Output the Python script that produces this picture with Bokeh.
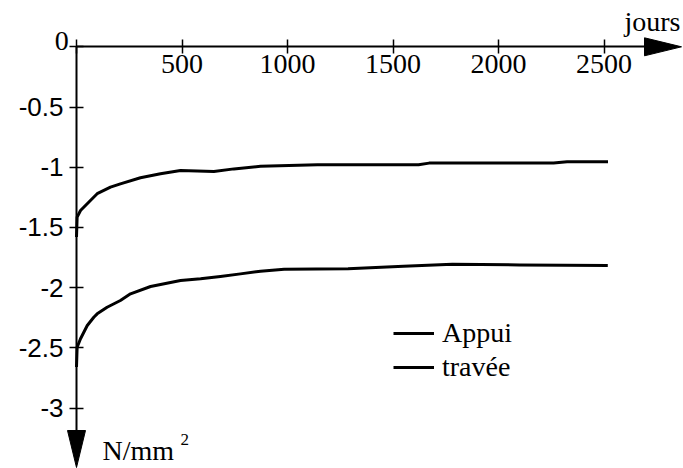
from bokeh.plotting import figure
from bokeh.models import Range1d, LinearAxis, FixedTicker, Legend, LegendItem
from bokeh.core.properties import value
from bokeh.embed import file_html
from bokeh.resources import INLINE

# Stress over time (N/mm2) at the support (appui) and in the span (travée)
days_appui = [0, 3, 19, 51, 82, 98, 145, 208, 256, 351, 493, 588, 682, 777,
              872, 984, 1287, 1550, 1781, 2100, 2518]
sigma_appui = [-2.66, -2.495, -2.425, -2.315, -2.246, -2.218, -2.163, -2.107,
               -2.052, -1.991, -1.941, -1.927, -1.908, -1.886, -1.864, -1.848,
               -1.843, -1.822, -1.806, -1.812, -1.817]

days_travee = [0, 3, 19, 66, 98, 161, 208, 303, 398, 493, 651, 746, 872,
               1142, 1621, 1671, 2261, 2325, 2519]
sigma_travee = [-1.58, -1.415, -1.36, -1.277, -1.22, -1.166, -1.138, -1.088,
                -1.055, -1.027, -1.036, -1.014, -0.992, -0.98, -0.98, -0.966,
                -0.966, -0.955, -0.955]

x_ticks = [0, 500, 1000, 1500, 2000, 2500]
y_ticks = [0, -0.5, -1, -1.5, -2, -2.5, -3]
y_tick_labels = {0: "", -0.5: "-0.5", -1: "-1", -1.5: "-1.5", -2: "-2",
                 -2.5: "-2.5", -3: "-3"}

W, H = 683, 468
X0_PX, PX_PER_DAY = 76.0, 0.211      # where day 0 sits, horizontal scale
Y0_PX, PX_PER_UNIT = 46.3, 120.4     # where 0 N/mm2 sits, vertical scale

x_start = -X0_PX / PX_PER_DAY
x_end = (W - X0_PX) / PX_PER_DAY
y_end = Y0_PX / PX_PER_UNIT
y_start = -(H - Y0_PX) / PX_PER_UNIT

X_TIP = (681 - X0_PX) / PX_PER_DAY     # end of the time axis arrow
Y_TIP = -(467 - Y0_PX) / PX_PER_UNIT   # end of the stress axis arrow
HEAD_LEN, HEAD_HALF = 37, 9            # arrow head size in pixels

SERIF = "Liberation Serif"
SANS = "Liberation Sans"

p = figure(width=W, height=H, x_range=Range1d(x_start, x_end),
           y_range=Range1d(y_start, y_end), output_backend="svg",
           toolbar_location=None, x_axis_type=None, y_axis_type=None,
           min_border=0)
p.outline_line_color = None
p.background_fill_color = "white"

# axes crossing at the origin
xaxis = LinearAxis(fixed_location=0, ticker=FixedTicker(ticks=x_ticks),
                   bounds=(0, X_TIP - HEAD_LEN / PX_PER_DAY))
xaxis.major_label_overrides = {0: ""}
xaxis.major_label_text_font = SERIF
xaxis.major_label_text_font_size = "28px"
xaxis.major_label_text_color = "black"
xaxis.major_label_standoff = 1
xaxis.axis_line_width = 2
xaxis.axis_line_color = "black"
xaxis.major_tick_in = 7
xaxis.major_tick_out = 7
xaxis.major_tick_line_width = 1.5
xaxis.major_tick_line_color = "black"
xaxis.minor_tick_line_color = None
p.add_layout(xaxis, "below")

yaxis = LinearAxis(fixed_location=0, ticker=FixedTicker(ticks=y_ticks),
                   bounds=(Y_TIP + HEAD_LEN / PX_PER_UNIT, 0))
yaxis.major_label_overrides = y_tick_labels
yaxis.major_label_text_font = SANS
yaxis.major_label_text_font_size = "26px"
yaxis.major_label_text_color = "black"
yaxis.major_label_standoff = 6
yaxis.axis_line_width = 2
yaxis.axis_line_color = "black"
yaxis.major_tick_in = 7
yaxis.major_tick_out = 7
yaxis.major_tick_line_width = 1.5
yaxis.major_tick_line_color = "black"
yaxis.minor_tick_line_color = None
p.add_layout(yaxis, "left")

# arrow heads at the ends of both axes
hx = HEAD_LEN / PX_PER_DAY
hy = HEAD_HALF / PX_PER_UNIT
vx = HEAD_HALF / PX_PER_DAY
vy = HEAD_LEN / PX_PER_UNIT
p.patches(xs=[[X_TIP - hx, X_TIP, X_TIP - hx], [-vx, 0, vx]],
          ys=[[hy, 0, -hy], [Y_TIP + vy, Y_TIP, Y_TIP + vy]],
          fill_color="black", line_color="black", line_width=1)

# curves
r_appui = p.line(days_appui, sigma_appui, line_color="black", line_width=3,
                 line_join="round")
r_travee = p.line(days_travee, sigma_travee, line_color="black", line_width=3,
                  line_join="round")

# axis captions
p.text(x=[0], y=[0], text=["0"], x_offset=-7.7, y_offset=-5.6,
       text_align="right", text_baseline="alphabetic",
       text_font=value(SERIF), text_font_size="28px", text_color="black")
p.text(x=[X_TIP], y=[0], text=["jours"], x_offset=-1, y_offset=-25.6,
       text_align="right", text_baseline="alphabetic",
       text_font=value(SERIF), text_font_size="28px", text_color="black")
p.text(x=[0], y=[Y_TIP], text=["N/mm"], x_offset=26, y_offset=-17,
       text_align="left", text_baseline="alphabetic",
       text_font=value(SERIF), text_font_size="28px", text_color="black")
p.text(x=[0], y=[Y_TIP], text=["2"], x_offset=104, y_offset=-28,
       text_align="left", text_baseline="alphabetic",
       text_font=value(SERIF), text_font_size="17px", text_color="black")

legend = Legend(items=[LegendItem(label="Appui", renderers=[r_appui]),
                       LegendItem(label="travée", renderers=[r_travee])],
                location=(393, 84), orientation="vertical",
                glyph_width=41, glyph_height=34, label_height=34,
                label_standoff=8, spacing=0, padding=0, margin=0,
                background_fill_alpha=0, border_line_color=None,
                label_text_font=SERIF, label_text_font_size="28px",
                label_text_color="black")
p.add_layout(legend)

open("out.html", "w").write(file_html(p, INLINE))
